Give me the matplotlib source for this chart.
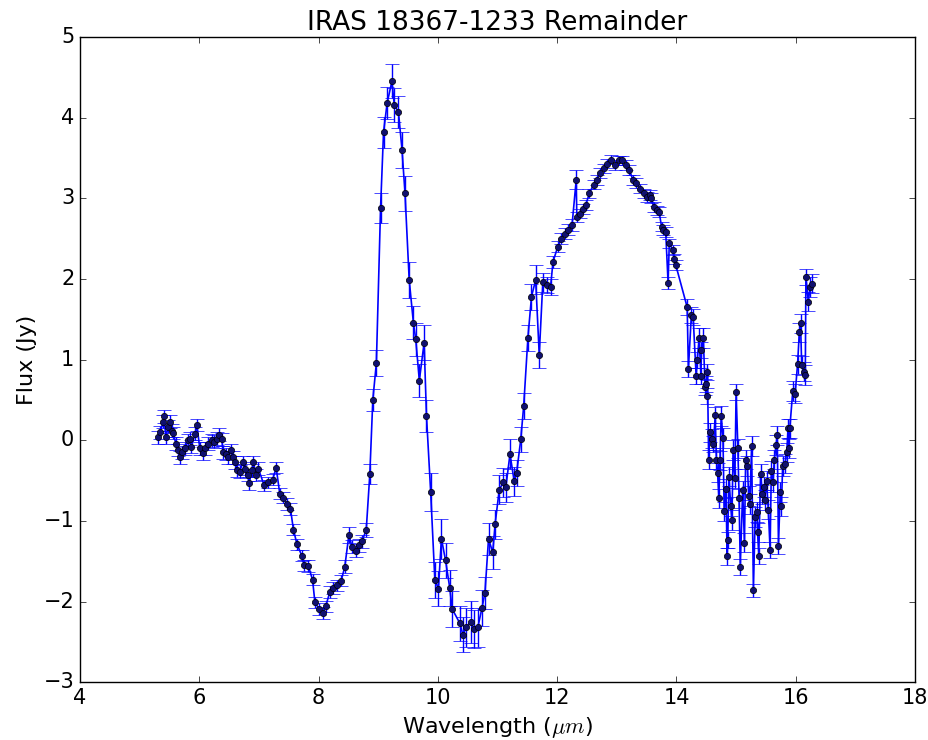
import numpy as np
import matplotlib
matplotlib.use('Agg')
import matplotlib.pyplot as plt

plt.style.use('classic')

# wavelength (micron), flux (Jy) and flux error
wave = [5.31, 5.34, 5.40, 5.41, 5.44, 5.48, 5.51, 5.54, 5.56, 5.61,
        5.65, 5.68, 5.71, 5.76, 5.82, 5.84, 5.87, 5.93, 5.96, 6.01,
        6.06, 6.10, 6.15, 6.21, 6.25, 6.29, 6.34, 6.38, 6.40, 6.45,
        6.49, 6.53, 6.56, 6.60, 6.64, 6.68, 6.73, 6.77, 6.81, 6.84,
        6.88, 6.91, 6.95, 6.99, 7.09, 7.16, 7.23, 7.29, 7.35, 7.41,
        7.47, 7.53, 7.58, 7.64, 7.72, 7.76, 7.83, 7.90, 7.94, 8.01,
        8.07, 8.12, 8.19, 8.25, 8.31, 8.38, 8.44, 8.51, 8.56, 8.62,
        8.68, 8.73, 8.80, 8.86, 8.91, 8.97, 9.04, 9.09, 9.15, 9.23,
        9.27, 9.34, 9.40, 9.45, 9.52, 9.59, 9.63, 9.69, 9.77, 9.81,
        9.88, 9.95, 10.01, 10.06, 10.13, 10.20, 10.24, 10.37, 10.42, 10.48,
        10.55, 10.61, 10.67, 10.74, 10.79, 10.85, 10.92, 10.96, 11.03, 11.10,
        11.14, 11.21, 11.28, 11.32, 11.39, 11.44, 11.51, 11.57, 11.64, 11.70,
        11.76, 11.83, 11.89, 11.93, 12.01, 12.07, 12.13, 12.19, 12.25, 12.32,
        12.33, 12.38, 12.44, 12.48, 12.54, 12.61, 12.66, 12.72, 12.79, 12.84,
        12.90, 12.97, 13.03, 13.09, 13.16, 13.21, 13.27, 13.32, 13.39, 13.45,
        13.50, 13.55, 13.58, 13.62, 13.67, 13.71, 13.75, 13.78, 13.82, 13.86,
        13.88, 13.94, 13.96, 13.99, 14.18, 14.20, 14.25, 14.28, 14.33, 14.35,
        14.38, 14.41, 14.42, 14.45, 14.48, 14.49, 14.51, 14.52, 14.54, 14.56,
        14.59, 14.62, 14.65, 14.67, 14.69, 14.71, 14.73, 14.75, 14.78, 14.80,
        14.83, 14.85, 14.86, 14.88, 14.91, 14.93, 14.95, 14.98, 15.00, 15.03,
        15.05, 15.07, 15.11, 15.14, 15.16, 15.19, 15.21, 15.23, 15.26, 15.29,
        15.32, 15.35, 15.36, 15.38, 15.41, 15.44, 15.47, 15.48, 15.51, 15.54,
        15.57, 15.59, 15.62, 15.64, 15.67, 15.69, 15.71, 15.74, 15.76, 15.78,
        15.82, 15.85, 15.87, 15.88, 15.90, 15.95, 15.99, 16.03, 16.06, 16.08,
        16.10, 16.13, 16.16, 16.17, 16.21, 16.24, 16.27]

flux = [0.04, 0.10, 0.23, 0.30, 0.04, 0.17, 0.23, 0.12, 0.09, -0.04,
        -0.12, -0.21, -0.15, -0.10, 0.00, 0.02, -0.08, 0.08, 0.19, -0.10,
        -0.16, -0.10, -0.04, 0.00, -0.02, 0.02, 0.07, 0.01, -0.15, -0.17,
        -0.21, -0.12, -0.21, -0.27, -0.37, -0.39, -0.27, -0.35, -0.43, -0.53,
        -0.37, -0.27, -0.43, -0.35, -0.56, -0.52, -0.49, -0.34, -0.66, -0.71,
        -0.79, -0.85, -1.11, -1.29, -1.43, -1.55, -1.56, -1.73, -2.01, -2.09,
        -2.14, -2.06, -1.88, -1.83, -1.80, -1.74, -1.57, -1.17, -1.32, -1.37,
        -1.30, -1.25, -1.11, -0.42, 0.50, 0.96, 2.88, 3.82, 4.18, 4.45,
        4.16, 4.07, 3.60, 3.06, 1.99, 1.46, 1.25, 0.74, 1.21, 0.30,
        -0.64, -1.73, -1.84, -1.22, -1.49, -1.83, -2.09, -2.27, -2.41, -2.32,
        -2.25, -2.34, -2.32, -2.08, -1.89, -1.22, -1.39, -1.04, -0.61, -0.52,
        -0.58, -0.17, -0.51, -0.41, 0.01, 0.43, 1.27, 1.78, 1.99, 1.06,
        1.96, 1.93, 1.90, 2.21, 2.40, 2.50, 2.56, 2.61, 2.67, 3.23,
        2.77, 2.81, 2.87, 2.92, 3.06, 3.17, 3.23, 3.31, 3.37, 3.43,
        3.48, 3.41, 3.47, 3.47, 3.41, 3.35, 3.23, 3.19, 3.12, 3.06,
        3.02, 3.04, 3.00, 2.89, 2.85, 2.83, 2.65, 2.61, 2.58, 1.95,
        2.44, 2.36, 2.25, 2.17, 1.65, 0.88, 1.55, 1.53, 0.80, 1.00,
        1.27, 0.80, 1.12, 1.27, 0.66, 0.70, 0.55, 0.85, -0.24, 0.10,
        0.02, -0.05, 0.31, -0.24, -0.40, -0.72, -0.25, 0.30, 0.03, -0.88,
        -0.60, -1.44, -1.24, -0.45, -0.82, -0.99, -0.12, -0.47, 0.60, -0.10,
        -0.72, -1.57, -0.62, -1.27, -0.24, -0.32, -0.69, -0.79, -0.07, -1.86,
        -0.95, -0.89, -1.14, -1.43, -0.42, -0.67, -0.58, -0.74, -0.50, -0.86,
        -1.36, -0.38, -0.52, -0.24, -0.06, 0.06, -1.31, -0.64, -0.82, -0.32,
        -0.29, -0.15, 0.15, -0.10, 0.15, 0.61, 0.58, 0.94, 1.34, 1.45,
        0.93, 0.85, 0.81, 2.02, 1.72, 1.90, 1.94]

err = [0.08, 0.08, 0.08, 0.08, 0.08, 0.08, 0.08, 0.08, 0.08, 0.08,
       0.08, 0.08, 0.08, 0.08, 0.08, 0.08, 0.08, 0.08, 0.08, 0.08,
       0.08, 0.08, 0.08, 0.08, 0.08, 0.08, 0.08, 0.08, 0.08, 0.08,
       0.08, 0.08, 0.08, 0.08, 0.08, 0.08, 0.08, 0.08, 0.08, 0.08,
       0.08, 0.08, 0.08, 0.08, 0.07, 0.07, 0.07, 0.07, 0.07, 0.07,
       0.07, 0.07, 0.07, 0.07, 0.07, 0.07, 0.07, 0.07, 0.07, 0.07,
       0.07, 0.07, 0.07, 0.07, 0.07, 0.07, 0.08, 0.10, 0.08, 0.08,
       0.08, 0.08, 0.09, 0.12, 0.14, 0.16, 0.18, 0.19, 0.20, 0.21,
       0.21, 0.20, 0.22, 0.22, 0.22, 0.20, 0.20, 0.20, 0.22, 0.20,
       0.24, 0.22, 0.22, 0.25, 0.22, 0.22, 0.22, 0.22, 0.22, 0.24,
       0.26, 0.24, 0.24, 0.22, 0.20, 0.20, 0.20, 0.18, 0.18, 0.18,
       0.18, 0.18, 0.18, 0.16, 0.16, 0.16, 0.16, 0.16, 0.18, 0.16,
       0.12, 0.10, 0.10, 0.08, 0.07, 0.07, 0.07, 0.07, 0.07, 0.12,
       0.06, 0.06, 0.06, 0.06, 0.06, 0.06, 0.06, 0.06, 0.06, 0.06,
       0.06, 0.06, 0.06, 0.06, 0.06, 0.06, 0.06, 0.06, 0.06, 0.06,
       0.06, 0.06, 0.06, 0.06, 0.06, 0.06, 0.06, 0.06, 0.06, 0.08,
       0.06, 0.06, 0.06, 0.06, 0.10, 0.10, 0.10, 0.10, 0.10, 0.10,
       0.12, 0.10, 0.10, 0.12, 0.10, 0.10, 0.10, 0.10, 0.12, 0.12,
       0.12, 0.10, 0.10, 0.12, 0.12, 0.12, 0.12, 0.12, 0.12, 0.12,
       0.12, 0.10, 0.10, 0.12, 0.12, 0.12, 0.12, 0.12, 0.10, 0.12,
       0.12, 0.10, 0.12, 0.12, 0.12, 0.12, 0.12, 0.12, 0.12, 0.08,
       0.12, 0.12, 0.12, 0.10, 0.12, 0.12, 0.12, 0.12, 0.12, 0.12,
       0.10, 0.12, 0.12, 0.12, 0.12, 0.12, 0.10, 0.12, 0.12, 0.12,
       0.12, 0.12, 0.12, 0.12, 0.12, 0.12, 0.12, 0.12, 0.12, 0.12,
       0.12, 0.12, 0.12, 0.10, 0.12, 0.12, 0.12]

fig = plt.figure(figsize=(9.29, 7.40), dpi=100, facecolor='white')
ax = fig.add_axes([0.086, 0.078, 0.899, 0.872])

ax.errorbar(wave, flux, yerr=err, fmt='o-', color='b', ecolor='b',
            mec='k', mfc='#101070', ms=4.5, lw=1.2, elinewidth=1,
            capsize=5)

ax.set_xlim(4, 18)
ax.set_ylim(-3, 5)
ax.set_title('IRAS 18367-1233 Remainder', fontsize=19)
ax.set_xlabel(r'Wavelength ($\mu m$)', fontsize=16)
ax.set_ylabel('Flux (Jy)', fontsize=16)
ax.tick_params(labelsize=15)

fig.savefig('out.png', dpi=100, facecolor='white')
